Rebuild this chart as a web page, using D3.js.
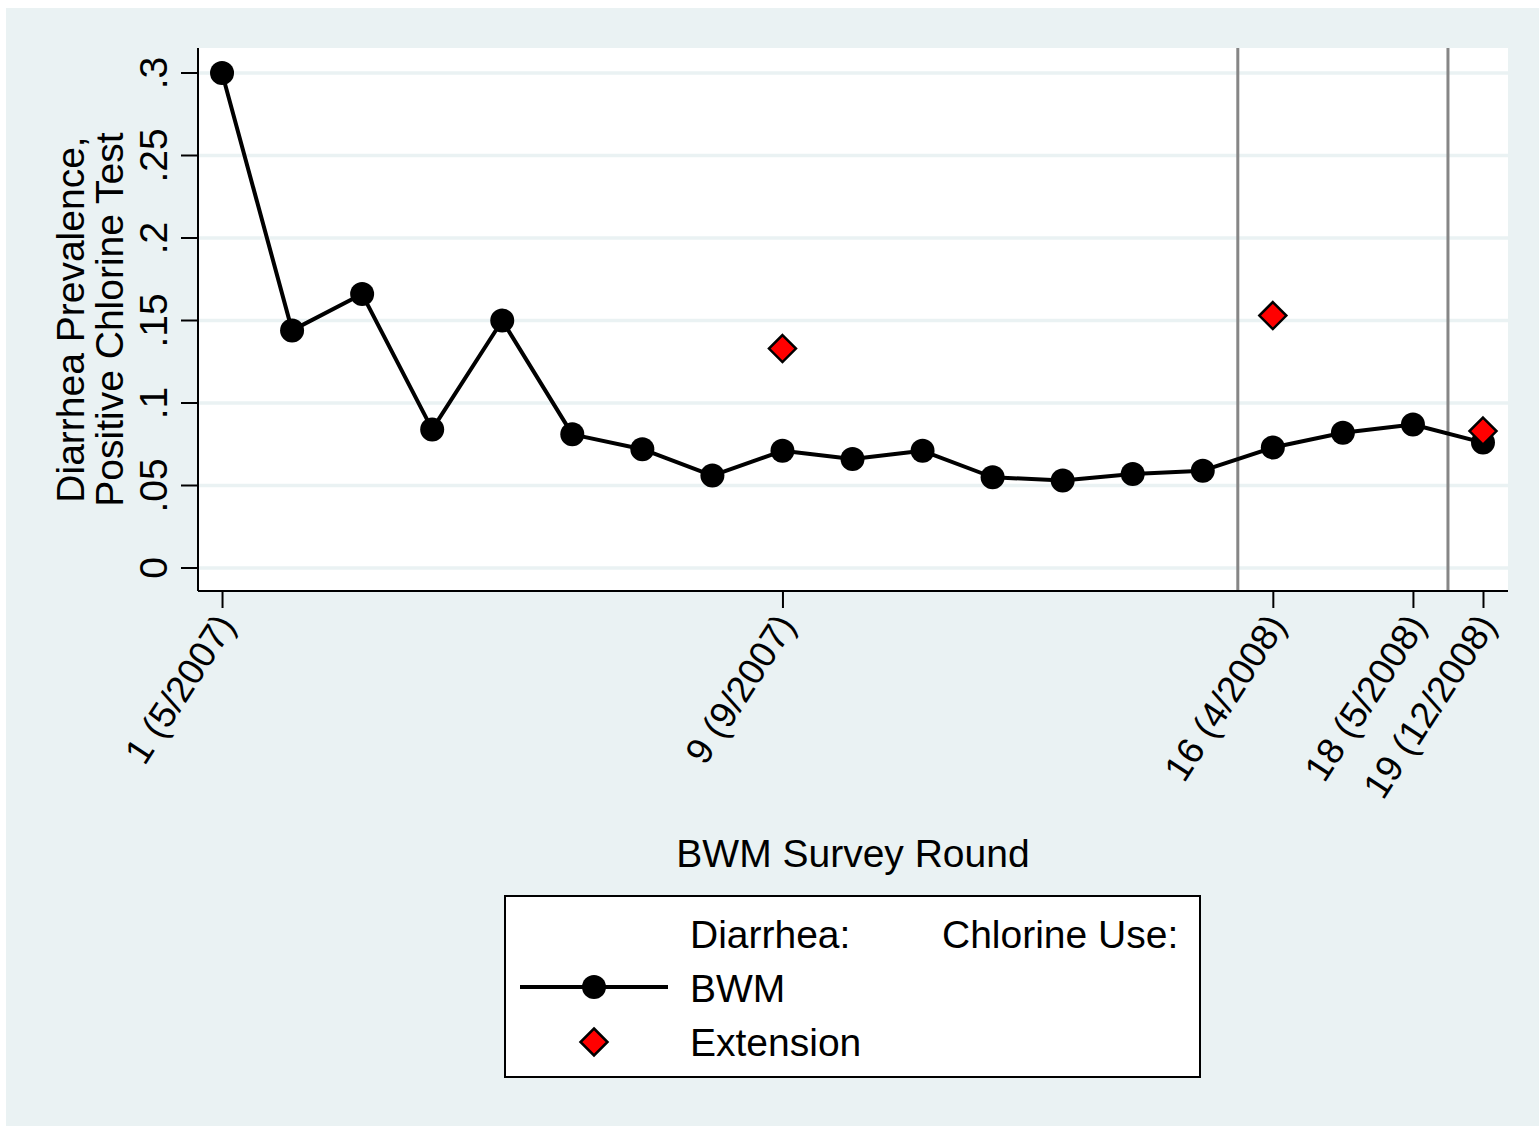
<!DOCTYPE html>
<html>
<head>
<meta charset="utf-8">
<script src="https://cdn.jsdelivr.net/npm/d3@7"></script>
<style>
  body { margin: 0; background: #ffffff; }
  svg { display: block; font-family: "Liberation Sans", Arial, Helvetica, sans-serif; }
</style>
</head>
<body>
<div id="chart"></div>
<script>
// survey rounds and diarrhea prevalence (BWM)
var rounds = [1,2,3,4,5,6,7,8,9,10,11,12,13,14,15,16,17,18,19];
var bwmValues = [0.300,0.144,0.166,0.084,0.150,0.081,0.072,0.056,0.071,0.066,0.071,0.055,0.053,0.057,0.059,0.073,0.082,0.087,0.076];
// extension rounds, positive chlorine test
var extRounds = [9,16,19];
var extValues = [0.133,0.153,0.083];
// x ticks
var xTicks = [1,9,16,18,19];
var xTickLabels = ["1 (5/2007)","9 (9/2007)","16 (4/2008)","18 (5/2008)","19 (12/2008)"];
var yTicks = [0,0.05,0.1,0.15,0.2,0.25,0.3];
var yTickLabels = ["0",".05",".1",".15",".2",".25",".3"];
// vertical reference lines
var refLines = [15.5,18.5];

var W = 1539, H = 1126;
var bg = "#eaf2f3";
var fs = 39;

var svg = d3.select("#chart").append("svg")
    .attr("width", W).attr("height", H);

svg.append("rect").attr("x", 6).attr("y", 8)
    .attr("width", W - 6).attr("height", H - 8).attr("fill", bg);

var plot = {left: 198, right: 1508, top: 48, bottom: 591};

var x = d3.scaleLinear().domain([0.657, 19.357]).range([plot.left, plot.right]);
var y = d3.scaleLinear().domain([-0.01394, 0.31515]).range([plot.bottom, plot.top]);

svg.append("rect")
    .attr("x", plot.left).attr("y", plot.top)
    .attr("width", plot.right - plot.left).attr("height", plot.bottom - plot.top)
    .attr("fill", "#ffffff");

// gridlines
svg.append("g").selectAll("line")
    .data(yTicks)
    .join("line")
    .attr("x1", plot.left).attr("x2", plot.right)
    .attr("y1", d => y(d)).attr("y2", d => y(d))
    .attr("stroke", bg).attr("stroke-width", 3.5);

// reference lines
svg.append("g").selectAll("line")
    .data(refLines)
    .join("line")
    .attr("x1", d => x(d)).attr("x2", d => x(d))
    .attr("y1", plot.top).attr("y2", plot.bottom)
    .attr("stroke", "#868686").attr("stroke-width", 3);

// y axis
var yAxis = d3.axisLeft(y).tickValues(yTicks)
    .tickFormat((d, i) => yTickLabels[i]).tickSize(17).tickPadding(0);
var gy = svg.append("g").attr("transform", `translate(${plot.left},0)`).call(yAxis);
gy.select(".domain").attr("d", `M0,${plot.top}V${plot.bottom}`).attr("stroke-width", 2);
gy.selectAll(".tick line").attr("stroke-width", 2);
gy.selectAll(".tick text")
    .attr("x", 0).attr("dy", null)
    .attr("transform", d => `translate(-31,${y(d)}) rotate(-90)`)
    .attr("y", 0)
    .attr("text-anchor", "middle")
    .style("font-size", fs + "px").attr("fill", "#000")
    .attr("font-family", null);
gy.selectAll(".tick").attr("transform", null);
gy.selectAll(".tick line").attr("transform", d => `translate(0,${y(d)})`);

// x axis
var xAxis = d3.axisBottom(x).tickValues(xTicks)
    .tickFormat((d, i) => xTickLabels[i]).tickSize(17).tickPadding(0);
var gx = svg.append("g").attr("transform", `translate(0,${plot.bottom})`).call(xAxis);
gx.select(".domain").attr("d", `M${plot.left},0H${plot.right}`).attr("stroke-width", 2);
gx.selectAll(".tick line").attr("stroke-width", 2);
gx.selectAll(".tick text")
    .attr("y", 0).attr("dy", "0.35em")
    .attr("text-anchor", "end")
    .attr("transform", "translate(3,27) rotate(-57)")
    .style("font-size", "37px").attr("fill", "#000")
    .attr("font-family", null);

// axis titles
svg.append("text")
    .attr("transform", `translate(84,${(plot.top + plot.bottom) / 2}) rotate(-90)`)
    .attr("text-anchor", "middle")
    .style("font-size", fs + "px")
    .text("Diarrhea Prevalence,");
svg.append("text")
    .attr("transform", `translate(123,${(plot.top + plot.bottom) / 2}) rotate(-90)`)
    .attr("text-anchor", "middle")
    .style("font-size", fs + "px")
    .text("Positive Chlorine Test");
svg.append("text")
    .attr("x", (plot.left + plot.right) / 2 + 0).attr("y", 867)
    .attr("text-anchor", "middle")
    .style("font-size", fs + "px")
    .text("BWM Survey Round");

// BWM line
var line = d3.line().x((d, i) => x(rounds[i])).y(d => y(d));
svg.append("path")
    .datum(bwmValues)
    .attr("d", line)
    .attr("fill", "none").attr("stroke", "#000").attr("stroke-width", 4)
    .attr("stroke-linejoin", "round");

svg.append("g").selectAll("circle")
    .data(bwmValues)
    .join("circle")
    .attr("cx", (d, i) => x(rounds[i])).attr("cy", d => y(d))
    .attr("r", 12).attr("fill", "#000");

// extension diamonds
var diamond = s => `M0,${-s}L${s},0L0,${s}L${-s},0Z`;
svg.append("g").selectAll("path")
    .data(extValues)
    .join("path")
    .attr("transform", (d, i) => `translate(${x(extRounds[i])},${y(d)})`)
    .attr("d", diamond(13.5))
    .attr("fill", "#ff0000").attr("stroke", "#000").attr("stroke-width", 2.5);

// legend
var lg = svg.append("g");
lg.append("rect").attr("x", 505).attr("y", 896).attr("width", 695).attr("height", 181)
    .attr("fill", "#fff").attr("stroke", "#000").attr("stroke-width", 2);
lg.append("text").attr("x", 690).attr("y", 948).style("font-size", fs + "px").text("Diarrhea:");
lg.append("text").attr("x", 942).attr("y", 948).style("font-size", fs + "px").text("Chlorine Use:");
lg.append("line").attr("x1", 520).attr("x2", 668).attr("y1", 987).attr("y2", 987)
    .attr("stroke", "#000").attr("stroke-width", 4);
lg.append("circle").attr("cx", 594).attr("cy", 987).attr("r", 12).attr("fill", "#000");
lg.append("text").attr("x", 690).attr("y", 1002).style("font-size", fs + "px").text("BWM");
lg.append("path").attr("transform", "translate(594,1042)").attr("d", diamond(13.5))
    .attr("fill", "#ff0000").attr("stroke", "#000").attr("stroke-width", 2.5);
lg.append("text").attr("x", 690).attr("y", 1056).style("font-size", fs + "px").text("Extension");
</script>
</body>
</html>
